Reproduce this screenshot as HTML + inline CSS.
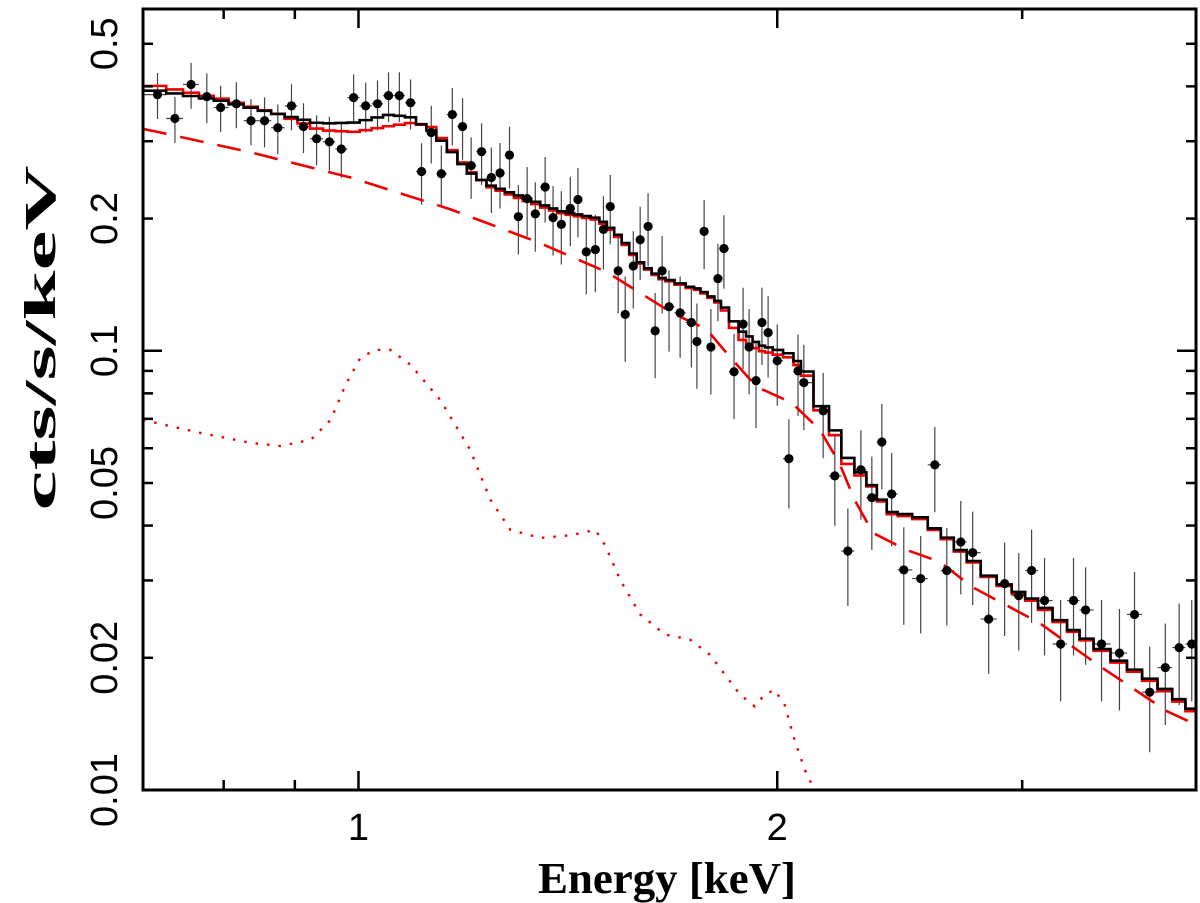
<!DOCTYPE html>
<html><head><meta charset="utf-8"><style>
html,body{margin:0;padding:0;background:#fff;}
svg{display:block;}
</style></head><body>
<svg id="chart" width="1200" height="903" viewBox="0 0 1200 903" xmlns="http://www.w3.org/2000/svg">
<defs><clipPath id="plotclip"><rect x="143" y="9" width="1053" height="781"/></clipPath></defs>
<g id="plot" clip-path="url(#plotclip)"></g>
<g id="axes"></g>
<text transform="translate(55,338) rotate(-90)" text-anchor="middle" font-family="Liberation Serif, serif" font-weight="bold" font-size="44" textLength="345" lengthAdjust="spacingAndGlyphs">cts/s/keV</text>
<text x="667" y="893" text-anchor="middle" font-family="Liberation Serif, serif" font-weight="bold" font-size="44" textLength="258" lengthAdjust="spacingAndGlyphs">Energy [keV]</text>
</svg>
<script>
const dataE=[0.717,0.738,0.758,0.778,0.796,0.817,0.837,0.856,0.875,0.895,0.913,0.933,0.953,0.972,0.992,1.012,1.032,1.051,1.070,1.090,1.110,1.128,1.147,1.168,1.188,1.205,1.226,1.246,1.264,1.284,1.303,1.322,1.340,1.362,1.380,1.399,1.420,1.438,1.458,1.480,1.500,1.517,1.537,1.555,1.576,1.594,1.615,1.634,1.653,1.672,1.703,1.735,1.751,1.772,1.792,1.813,1.831,1.862,1.890,1.909,1.931,1.950,1.970,2.000,2.039,2.070,2.090,2.158,2.200,2.248,2.297,2.339,2.378,2.417,2.466,2.536,2.596,2.648,2.710,2.764,2.838,2.914,2.983,3.047,3.113,3.197,3.266,3.332,3.421,3.524,3.613,3.705,3.802,3.890,3.972];
const dataV=[0.383,0.338,0.404,0.379,0.358,0.365,0.334,0.334,0.322,0.361,0.324,0.304,0.299,0.288,0.377,0.361,0.365,0.381,0.381,0.367,0.256,0.314,0.253,0.345,0.324,0.264,0.284,0.248,0.254,0.279,0.202,0.222,0.205,0.236,0.201,0.194,0.211,0.221,0.168,0.170,0.189,0.213,0.152,0.121,0.156,0.179,0.192,0.111,0.152,0.126,0.122,0.116,0.105,0.187,0.102,0.146,0.171,0.0896,0.115,0.102,0.0855,0.116,0.110,0.0949,0.0568,0.090,0.0846,0.073,0.0519,0.035,0.0536,0.0463,0.062,0.0472,0.0317,0.0303,0.055,0.0316,0.0367,0.0347,0.0245,0.0295,0.0277,0.0316,0.027,0.0215,0.027,0.0257,0.0215,0.0205,0.0251,0.0167,0.019,0.0211,0.0215];
const dataErr=[0.12,0.12,0.12,0.13,0.12,0.12,0.12,0.13,0.13,0.12,0.13,0.13,0.14,0.14,0.13,0.13,0.13,0.13,0.13,0.13,0.16,0.15,0.16,0.15,0.16,0.16,0.16,0.17,0.17,0.16,0.18,0.18,0.18,0.17,0.18,0.19,0.18,0.18,0.2,0.2,0.19,0.18,0.2,0.22,0.2,0.19,0.19,0.22,0.2,0.21,0.21,0.21,0.22,0.18,0.22,0.2,0.19,0.22,0.21,0.22,0.22,0.2,0.21,0.21,0.23,0.21,0.22,0.22,0.23,0.25,0.23,0.24,0.22,0.24,0.25,0.25,0.22,0.25,0.24,0.24,0.25,0.24,0.25,0.24,0.25,0.26,0.25,0.25,0.26,0.26,0.25,0.27,0.26,0.26,0.26];
const modelE=[0.700,0.717,0.796,0.879,0.939,0.995,1.054,1.090,1.126,1.164,1.203,1.244,1.307,1.396,1.491,1.542,1.594,1.647,1.760,1.819,1.880,1.944,2.058,2.110,2.181,2.237,2.330,2.411,2.533,2.661,2.843,3.059,3.297,3.524,3.764,3.985,4.0];
const modelBlack=[0.395,0.391,0.371,0.345,0.329,0.331,0.345,0.340,0.319,0.287,0.254,0.238,0.225,0.208,0.200,0.182,0.159,0.147,0.138,0.129,0.112,0.103,0.0979,0.085,0.0704,0.058,0.0503,0.043,0.0419,0.0371,0.0306,0.0271,0.0226,0.0197,0.0174,0.0152,0.0151];
const modelRed=[0.405,0.401,0.375,0.345,0.318,0.315,0.325,0.330,0.325,0.290,0.256,0.236,0.222,0.206,0.198,0.180,0.158,0.146,0.137,0.128,0.107,0.100,0.0960,0.083,0.0690,0.056,0.0500,0.0425,0.0415,0.0368,0.0304,0.0268,0.0224,0.0195,0.0172,0.0150,0.0149];
const contE=[0.700,0.717,0.837,0.987,1.164,1.344,1.509,1.680,1.779,1.849,1.933,2.049,2.146,2.216,2.273,2.343,2.477,2.617,2.761,3.087,3.423,3.814,3.998];
const contV=[0.320,0.315,0.283,0.248,0.210,0.177,0.151,0.122,0.112,0.0969,0.0828,0.0761,0.0661,0.0556,0.0458,0.0385,0.0352,0.0331,0.029,0.024,0.019,0.0151,0.0141];
const lineE=[0.700,0.770,0.837,0.879,0.924,0.955,0.979,1.003,1.028,1.054,1.090,1.145,1.203,1.244,1.286,1.351,1.420,1.480,1.504,1.542,1.594,1.661,1.731,1.790,1.880,1.927,1.959,1.992,2.025,2.058,2.094,2.130,2.160];
const lineV=[0.0696,0.065,0.0617,0.0607,0.0627,0.0696,0.0837,0.0964,0.1005,0.1005,0.0929,0.0773,0.0595,0.0458,0.0391,0.0375,0.038,0.0391,0.0361,0.0301,0.0251,0.0226,0.022,0.0203,0.0165,0.0155,0.0165,0.0169,0.0156,0.013,0.0111,0.0099,0.0088];
const yTickLabels=["0.5","0.2","0.1","0.05","0.02","0.01"];
const yTickVals=[0.5,0.2,0.1,0.05,0.02,0.01];
const yMinorVals=[0.02,0.03,0.04,0.05,0.06,0.07,0.08,0.09,0.2,0.3,0.4,0.5];
const xTickLabels=["1","2"];
const xTickVals=[1,2];
const xMinorVals=[0.8,0.9,3,4];

const L=143,R=1196,T=9,B=790;
const xMin=0.7,xMax=4.0,yMin=0.01,yMax=0.6;
function X(e){return L+(Math.log10(e)-Math.log10(xMin))/(Math.log10(xMax)-Math.log10(xMin))*(R-L);}
function Y(v){return B-(Math.log10(v)-Math.log10(yMin))/(Math.log10(yMax)-Math.log10(yMin))*(B-T);}
const NS="http://www.w3.org/2000/svg";
function mk(tag,attrs,parent){const el=document.createElementNS(NS,tag);for(const k in attrs)el.setAttribute(k,attrs[k]);parent.appendChild(el);return el;}
function interp(es,vs,e){
  if(e<=es[0])return vs[0];
  for(let i=1;i<es.length;i++){if(e<=es[i]){const t=(Math.log(e)-Math.log(es[i-1]))/(Math.log(es[i])-Math.log(es[i-1]));return Math.exp(Math.log(vs[i-1])+t*(Math.log(vs[i])-Math.log(vs[i-1])));}}
  return vs[vs.length-1];
}
const plot=document.getElementById('plot');
const axes=document.getElementById('axes');

const edges=[xMin];
for(let i=1;i<dataE.length;i++)edges.push(Math.sqrt(dataE[i-1]*dataE[i]));
edges.push(xMax);

for(let i=0;i<dataE.length;i++){
  const x=X(dataE[i]),v=dataV[i],s=v*dataErr[i];
  const eb=mk('line',{x1:x,x2:x,y1:Y(v+s),y2:Y(Math.max(v-s,0.001)),stroke:'#444','stroke-width':1.2},plot);
  
  
  const hb=mk('line',{x1:X(edges[i]),x2:X(edges[i+1]),y1:Y(v),y2:Y(v),stroke:'#444','stroke-width':1.2},plot);
  
  
}
function stepPath(vals,es){
  let d='';
  for(let i=0;i<dataE.length;i++){
    const v=interp(es,vals,dataE[i]);
    const y=Y(v);
    d+=(i===0?'M':'L')+X(edges[i])+','+y+'L'+X(edges[i+1])+','+y;
  }
  return d;
}
const red=mk('path',{d:stepPath(modelRed,modelE),fill:'none',stroke:'#ee0000','stroke-width':2.6},plot);


const blk=mk('path',{d:stepPath(modelBlack,modelE),fill:'none',stroke:'#000','stroke-width':2.6},plot);


let dc='';contE.forEach((e,i)=>{dc+=(i?'L':'M')+X(e)+','+Y(contV[i]);});
const cont=mk('path',{d:dc,fill:'none',stroke:'#ee0000','stroke-width':2.6,'stroke-dasharray':'24,14'},plot);


let dl='';lineE.forEach((e,i)=>{dl+=(i?'L':'M')+X(e)+','+Y(lineV[i]);});
const ln=mk('path',{d:dl,fill:'none',stroke:'#ee0000','stroke-width':2.4,'stroke-dasharray':'2.5,9'},plot);


for(let i=0;i<dataE.length;i++){
  const c=mk('circle',{cx:X(dataE[i]),cy:Y(dataV[i]),r:4.6,fill:'#000'},plot);
  
  
}

const fr=mk('rect',{x:L,y:T,width:R-L,height:B-T,fill:'none',stroke:'#000','stroke-width':3},axes);


yMinorVals.forEach(v=>{
  const y=Y(v);
  const t1=mk('line',{x1:L,x2:L+10,y1:y,y2:y,stroke:'#000','stroke-width':2.5},axes);
  
  
  const t2=mk('line',{x1:R,x2:R-10,y1:y,y2:y,stroke:'#000','stroke-width':2.5},axes);
  
  
});
[0.1].forEach(v=>{
  const y=Y(v);
  const t1=mk('line',{x1:L,x2:L+19,y1:y,y2:y,stroke:'#000','stroke-width':2.5},axes);
  
  
  const t2=mk('line',{x1:R,x2:R-19,y1:y,y2:y,stroke:'#000','stroke-width':2.5},axes);
  
  
});
yTickVals.forEach((v,i)=>{
  const t=mk('text',{transform:'translate(117,'+Y(v)+') rotate(-90)','text-anchor':'middle','font-family':'Liberation Sans, sans-serif','font-size':38},axes);
  t.textContent=yTickLabels[i];
  
  
});
xMinorVals.forEach(e=>{
  const x=X(e);
  const t1=mk('line',{x1:x,x2:x,y1:B,y2:B-10,stroke:'#000','stroke-width':2.5},axes);
  
  
  const t2=mk('line',{x1:x,x2:x,y1:T,y2:T+10,stroke:'#000','stroke-width':2.5},axes);
  
  
});
xTickVals.forEach((e,i)=>{
  const x=X(e);
  const t1=mk('line',{x1:x,x2:x,y1:B,y2:B-19,stroke:'#000','stroke-width':2.5},axes);
  
  
  const t2=mk('line',{x1:x,x2:x,y1:T,y2:T+19,stroke:'#000','stroke-width':2.5},axes);
  
  
  const t=mk('text',{x:x,y:840,'text-anchor':'middle','font-family':'Liberation Sans, sans-serif','font-size':38},axes);
  t.textContent=xTickLabels[i];
  
  
});
</script>
</body></html>
